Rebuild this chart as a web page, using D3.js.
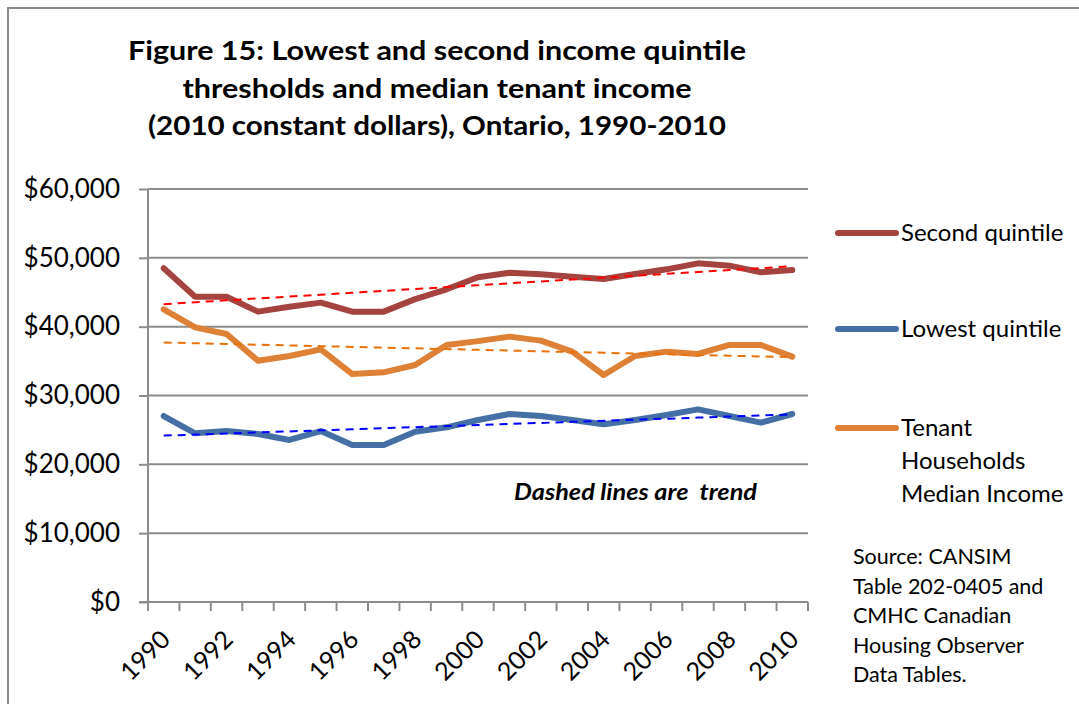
<!DOCTYPE html>
<html>
<head>
<meta charset="utf-8">
<script src="https://cdn.jsdelivr.net/npm/d3@7"></script>
<style>
  body { margin: 0; background: #fff; }
  svg { display: block; }
  text { font-family: Lato, "Open Sans", sans-serif; fill: #000; }
</style>
</head>
<body>
<script>
// values, 2010 constant dollars
const years = d3.range(1990, 2011)
const secondQuintile = [48480, 44350, 44350, 42180, 42900, 43490, 42180, 42180, 44000, 45430, 47170,
  47840, 47600, 47260, 46930, 47650, 48330, 49200, 48860, 47900, 48230]
const lowestQuintile = [27020, 24510, 24840, 24410, 23540, 24840, 22810, 22810, 24740, 25380, 26440,
  27310, 27020, 26440, 25810, 26440, 27170, 27990, 27020, 26050, 27310]
const tenantMedian = [42520, 39900, 38930, 35060, 35740, 36710, 33120, 33370, 34430, 37340, 37900,
  38550, 37970, 36370, 32980, 35740, 36370, 36030, 37340, 37340, 35640]
const yTicks = [0, 10000, 20000, 30000, 40000, 50000, 60000]
const xLabels = years.filter(y => y % 2 === 0)
const titleLines = [
  'Figure 15: Lowest and second income quintile',
  'thresholds and median tenant income',
  '(2010 constant dollars), Ontario, 1990-2010',
]
const titleWidths = [618, 509, 578]
const sourceLines = ['Source: CANSIM', 'Table 202-0405 and', 'CMHC Canadian', 'Housing Observer', 'Data Tables.']

const series = [
  { name: ['Second quintile'], values: secondQuintile, color: '#A5443F', trend: '#FF0000', legendY: 233 },
  { name: ['Lowest quintile'], values: lowestQuintile, color: '#4470A6', trend: '#0000FF', legendY: 329 },
  { name: ['Tenant', 'Households', 'Median Income'], values: tenantMedian, color: '#DE8136', trend: '#E8710A', legendY: 428 },
]

const W = 1079, H = 704
const plot = { left: 148, right: 808, top: 189, bottom: 602 }

const svg = d3.select('body').append('svg').attr('width', W).attr('height', H)

// chart frame
svg.append('path')
  .attr('d', `M8,${H} V8 H${W}`)
  .attr('fill', 'none').attr('stroke', '#8a8a8a').attr('stroke-width', 2)

const x = d3.scaleBand().domain(years).range([plot.left, plot.right]).padding(0)
const cx = yr => x(yr) + x.bandwidth() / 2
const y = d3.scaleLinear().domain([0, 60000]).range([plot.bottom, plot.top])

// gridlines
svg.append('g').selectAll('line').data(yTicks.filter(d => d > 0)).join('line')
  .attr('x1', plot.left).attr('x2', plot.right)
  .attr('y1', d => y(d)).attr('y2', d => y(d))
  .attr('stroke', '#8c8c8c').attr('stroke-width', 2)

// y axis
const yAxis = svg.append('g').attr('transform', `translate(${plot.left},0)`)
  .call(d3.axisLeft(y).tickValues(yTicks).tickFormat(d3.format('$,')).tickSize(9).tickPadding(19))
yAxis.selectAll('line, path').attr('stroke', '#8c8c8c').attr('stroke-width', 2)
yAxis.select('.domain').attr('d', `M0,${plot.top}V${plot.bottom}`)
yAxis.selectAll('text').attr('font-size', 26).attr('font-family', 'Lato, sans-serif').attr('fill', '#000')

// x axis with ticks between categories
const xg = svg.append('g')
xg.append('line')
  .attr('x1', plot.left - 9).attr('x2', plot.right)
  .attr('y1', plot.bottom).attr('y2', plot.bottom)
  .attr('stroke', '#8c8c8c').attr('stroke-width', 2)
xg.selectAll('.tick').data(years.map(yr => x(yr)).concat([plot.right])).join('line')
  .attr('x1', d => d).attr('x2', d => d)
  .attr('y1', plot.bottom).attr('y2', plot.bottom + 9)
  .attr('stroke', '#8c8c8c').attr('stroke-width', 2)
xg.selectAll('text').data(xLabels).join('text')
  .attr('transform', d => `translate(${cx(d) + 8},${plot.bottom + 39}) rotate(-45)`)
  .attr('text-anchor', 'end')
  .attr('font-size', 25)
  .text(d => d)

// linear trend (least squares, as the spreadsheet trendline)
const trendOf = vals => {
  const n = vals.length
  const mx = (n - 1) / 2
  const my = d3.mean(vals)
  const sxy = d3.sum(vals, (v, i) => (i - mx) * (v - my))
  const sxx = d3.sum(vals, (v, i) => (i - mx) * (i - mx))
  const b = sxy / sxx
  return vals.map((v, i) => my + b * (i - mx))
}

const line = d3.line().x((d, i) => cx(years[i])).y(d => y(d))

series.forEach(s => {
  svg.append('path')
    .attr('d', line(s.values))
    .attr('fill', 'none').attr('stroke', s.color)
    .attr('stroke-width', 6).attr('stroke-linejoin', 'round').attr('stroke-linecap', 'round')
})
series.forEach(s => {
  svg.append('path')
    .attr('d', line(trendOf(s.values)))
    .attr('fill', 'none').attr('stroke', s.trend)
    .attr('stroke-width', 2).attr('stroke-dasharray', '8,6')
})

// title
svg.append('g').selectAll('text').data(titleLines).join('text')
  .attr('x', 437).attr('y', (d, i) => 60 + i * 37.5)
  .attr('text-anchor', 'middle')
  .attr('font-size', 27).attr('font-weight', 'bold')
  .attr('textLength', (d, i) => titleWidths[i]).attr('lengthAdjust', 'spacingAndGlyphs')
  .text(d => d)

// legend
const leg = svg.append('g')
series.forEach(s => {
  leg.append('line')
    .attr('x1', 838).attr('x2', 896).attr('y1', s.legendY).attr('y2', s.legendY)
    .attr('stroke', s.color).attr('stroke-width', 6).attr('stroke-linecap', 'round')
  leg.append('g').selectAll('text').data(s.name).join('text')
    .attr('x', 901).attr('y', (d, i) => s.legendY + 8 + i * 33)
    .attr('font-size', 24)
    .text(d => d)
})

// notes
svg.append('text')
  .attr('x', 514).attr('y', 500)
  .attr('font-size', 22).attr('font-weight', 'bold').attr('font-style', 'italic')
  .attr('textLength', 243).attr('lengthAdjust', 'spacingAndGlyphs')
  .style('white-space', 'pre')
  .text('Dashed lines are  trend')

svg.append('g').selectAll('text').data(sourceLines).join('text')
  .attr('x', 853).attr('y', (d, i) => 564 + i * 29.5)
  .attr('font-size', 21.5)
  .text(d => d)
</script>
</body>
</html>
